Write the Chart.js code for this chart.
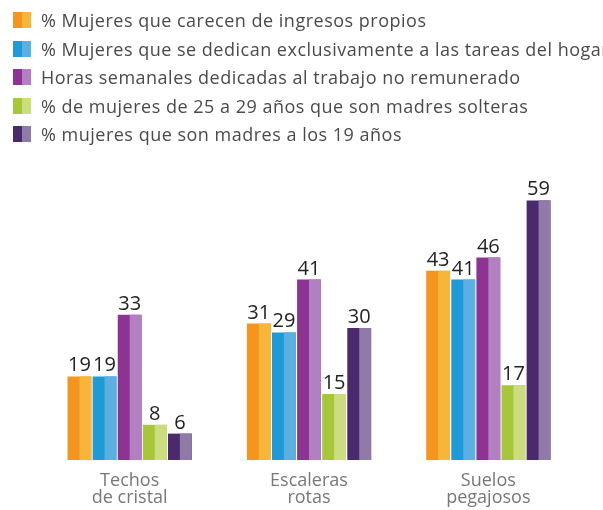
<!DOCTYPE html>
<html lang="es">
<head>
<meta charset="utf-8">
<title>Techos de cristal, escaleras rotas y suelos pegajosos</title>
<script src="https://cdn.jsdelivr.net/npm/chart.js@4.4.1/dist/chart.umd.min.js"></script>
<style>
    html, body { margin: 0; padding: 0; background: #fff; }
    #wrap { position: relative; width: 603px; height: 510px; overflow: hidden; }
    #legend { position: absolute; left: 13px; top: 6px; margin: 0; padding: 0; list-style: none;
              font-family: "Open Sans", Lato, sans-serif; font-size: 18px; letter-spacing: 0.5px; color: #4a4a4a; }
    #legend li { display: flex; align-items: center; height: 28.5px; white-space: nowrap; }
    #legend .sw { width: 18px; height: 16px; margin-right: 10px; display: inline-block; flex: none; }
    #chart { position: absolute; left: 0; top: 0; }
</style>
</head>
<body>
<div id="wrap">
    <canvas id="chart" width="603" height="510"></canvas>
    <ul id="legend"></ul>
</div>
<script>
/* Brechas de género: tres grupos de indicadores */

const categories = [['Techos', 'de cristal'], ['Escaleras', 'rotas'], ['Suelos', 'pegajosos']];

const seriesNames = [
    '% Mujeres que carecen de ingresos propios',
    '% Mujeres que se dedican exclusivamente a las tareas del hogar',
    'Horas semanales dedicadas al trabajo no remunerado',
    '% de mujeres de 25 a 29 años que son madres solteras',
    '% mujeres que son madres a los 19 años'
];

const sinIngresos = [19, 31, 43];
const tareasHogar = [19, 29, 41];
const horasNoRemuneradas = [33, 41, 46];
const madresSolteras = [8, 15, 17];
const madres19 = [6, 30, 59];

// left half / right half shades of each bar
const darkShades = ['#f4951f', '#1f9ad6', '#8d3492', '#a7c63c', '#4a2a6d'];
const lightShades = ['#f8b53c', '#5cb0e1', '#b27fc1', '#cbdd7f', '#8f7aa8'];

const allSeries = [sinIngresos, tareasHogar, horasNoRemuneradas, madresSolteras, madres19];

const FONT = '"Open Sans", Lato, sans-serif';

// legend
const legendEl = document.getElementById('legend');
seriesNames.forEach((name, i) => {
    const li = document.createElement('li');
    li.innerHTML = `<span class="sw" style="background: linear-gradient(to right, ${darkShades[i]} 50%, ${lightShades[i]} 50%);"></span>${name}`;
    legendEl.appendChild(li);
});

// paints the lighter right half over each bar
const splitBars = {
    id: 'splitBars',
    afterDatasetDraw(chart, args) {
        const ctx = chart.ctx;
        const i = args.index;
        ctx.save();
        ctx.fillStyle = lightShades[i];
        args.meta.data.forEach(bar => {
            const p = bar.getProps(['x', 'y', 'width', 'base'], true);
            ctx.fillRect(p.x, p.y, p.width / 2, p.base - p.y);
        });
        ctx.restore();
    }
};

// value printed above every bar
const valueLabels = {
    id: 'valueLabels',
    afterDatasetsDraw(chart) {
        const ctx = chart.ctx;
        ctx.save();
        ctx.font = '20px ' + FONT;
        ctx.fillStyle = '#222';
        ctx.textAlign = 'center';
        ctx.textBaseline = 'alphabetic';
        chart.data.datasets.forEach((ds, i) => {
            chart.getDatasetMeta(i).data.forEach((bar, j) => {
                const p = bar.getProps(['x', 'y'], true);
                ctx.fillText(ds.data[j], p.x, p.y - 5);
            });
        });
        ctx.restore();
    }
};

new Chart(document.getElementById('chart'), {
    type: 'bar',
    data: {
        labels: categories,
        datasets: allSeries.map((values, i) => ({
            label: seriesNames[i],
            data: values,
            backgroundColor: darkShades[i],
            borderWidth: 0,
            barPercentage: 0.95,
            categoryPercentage: 0.70
        }))
    },
    options: {
        responsive: false,
        animation: false,
        layout: { padding: { left: 40, right: 25, top: 196, bottom: 0 } },
        plugins: {
            legend: { display: false },
            tooltip: { enabled: false }
        },
        scales: {
            x: {
                grid: { display: false },
                border: { display: false },
                afterFit(scale) { scale.height = 50; },
                ticks: {
                    color: '#777',
                    padding: 4,
                    font: { family: FONT, size: 18, lineHeight: 0.95 }
                }
            },
            y: {
                display: false,
                min: 0,
                max: 60
            }
        }
    },
    plugins: [splitBars, valueLabels]
});
</script>
</body>
</html>
